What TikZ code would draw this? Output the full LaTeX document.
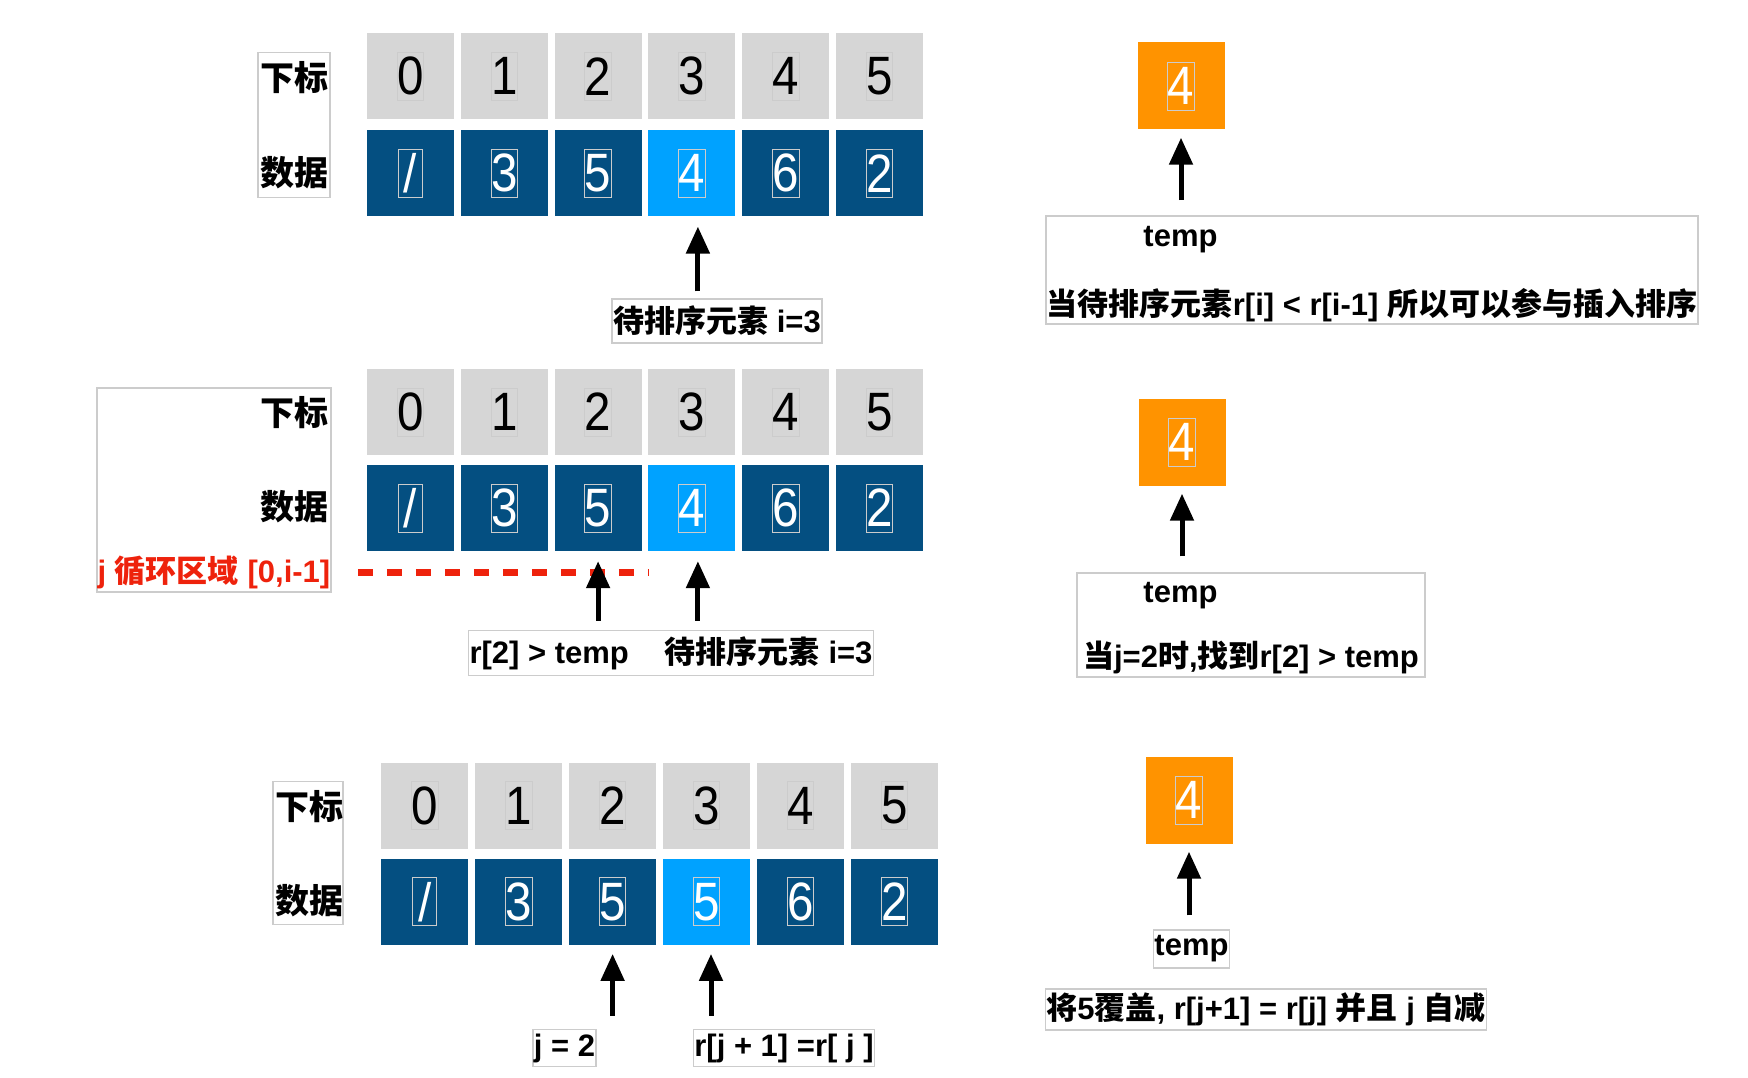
\documentclass[tikz,border=0pt]{standalone}
\usepackage{graphicx}
\usepackage{fontspec}
\setmainfont{Liberation Sans}
\newfontfamily\zhfont{Noto Sans CJK SC}
\newcommand{\zh}[1]{{\zhfont #1}}
\newcommand{\dg}[1]{\scalebox{0.88}[1]{#1}}
\usetikzlibrary{arrows.meta,positioning,calc}
\definecolor{idxgray}{RGB}{214,214,214}
\definecolor{datblue}{RGB}{4,79,129}
\definecolor{curblue}{RGB}{0,162,255}
\definecolor{tmporange}{RGB}{255,147,0}
\definecolor{loopred}{RGB}{238,34,12}
\definecolor{framegray}{RGB}{204,204,204}

\begin{document}
\begin{tikzpicture}[x=1pt, y=-1pt,
    cell/.style={fill=#1, minimum width=87pt, minimum height=86pt, inner sep=0pt},
    cell/.default=idxgray,
    digit/.style={draw=framegray, line width=0.8pt, inner sep=0pt,
                  minimum width=24pt, minimum height=48pt, text=#1,
                  font=\fontsize{54}{54}\selectfont},
    digit/.default=black,
    frame/.style={draw=framegray, line width=1.5pt, inner sep=0pt},
    txt/.style={inner xsep=1pt, inner ysep=0pt, minimum height=40pt,
                font=\fontsize{31}{34}\selectfont\bfseries},
    note/.style={txt, draw=framegray, line width=1.5pt},
    tag/.style={inner sep=0pt, font=\fontsize{34}{36}\selectfont\bfseries\zhfont},
    arr/.style={-{Triangle[length=27pt,width=23pt]}, line width=5pt},
  ]
  \useasboundingbox (0,0) rectangle (1748,1078);

  % ---- step 1: pick r[i]
  \node[frame, minimum width=72pt, minimum height=145pt] (lb1) at (294,125) {};
  \node[tag] (lb1i) at (294,78) {下标};
  \node[tag] (lb1d) at (294,173) {数据};
  \foreach \v [count=\i from 0] in {0,1,2,3,4,5} {
    \node[cell] (a\i) at (410.5+93.8*\i,76.4) {};
    \node[digit] (an\i) at (a\i) {\dg{\v}};
  }
  \foreach \v [count=\i from 0] in {{/},3,5,4,6,2} {
    \ifnum\i=3 \def\c{curblue}\else\def\c{datblue}\fi
    \node[cell=\c] (b\i) at (410.5+93.8*\i,173.4) {};
    \node[digit=white] (bn\i) at (b\i) {\dg{\v}};
  }
  \node[note, minimum height=44pt] (p1) at (717,321) {\zh{待排序元素} i=3};
  \draw[arr, shorten <=7pt, shorten >=10pt]
    ([xshift=6pt]b3.south |- p1.north) -- ([xshift=6pt]b3.south);

  \node[cell=tmporange, minimum height=87pt] (t1) at (1181,86) {};
  \node[digit=white] (tn1) at (t1) {\dg{4}};
  \node[frame, minimum width=652pt, minimum height=108pt] (c1) at (1372,270) {};
  \node[txt] (c1a) at (1180.5,240) {temp};
  \node[txt] (c1b) at (1372,305)
    {\zh{当待排序元素}r[i] < r[i-1] \zh{所以可以参与插入排序}};
  \draw[arr, shorten <=15pt, shorten >=8pt] (c1.north -| t1.south) -- (t1.south);

  % ---- step 2: search j
  \node[frame, minimum width=234pt, minimum height=204pt] (lb2) at (214,490) {};
  \node[tag, anchor=east] (lb2i) at (329,412.5) {下标};
  \node[tag, anchor=east] (lb2d) at (329,507) {数据};
  \node[txt, text=loopred] (jr) at (214,572) {j \zh{循环区域} [0,i-1]};
  \foreach \v [count=\i from 0] in {0,1,2,3,4,5} {
    \node[cell] (c\i) at (410.5+93.8*\i,412) {};
    \node[digit] (cn\i) at (c\i) {\dg{\v}};
  }
  \foreach \v [count=\i from 0] in {{/},3,5,4,6,2} {
    \ifnum\i=3 \def\c{curblue}\else\def\c{datblue}\fi
    \node[cell=\c] (d\i) at (410.5+93.8*\i,508) {};
    \node[digit=white] (dn\i) at (d\i) {\dg{\v}};
  }
  \draw[loopred, line width=7pt, dash pattern=on 15pt off 14pt]
    ([xshift=26pt]lb2.east |- jr) -- (jr -| d3.west);
  \node[note, minimum height=45pt] (p2) at (671,653)
    {r[2] > temp\hspace{36pt}\zh{待排序元素} i=3};
  \draw[arr, shorten <=9pt, shorten >=10pt] (p2.north -| d2.south) -- (d2.south);
  \draw[arr, shorten <=9pt, shorten >=10pt]
    ([xshift=6pt]d3.south |- p2.north) -- ([xshift=6pt]d3.south);

  \node[cell=tmporange, minimum height=87pt] (t2) at (1182,442) {};
  \node[digit=white] (tn2) at (t2) {\dg{4}};
  \node[frame, minimum width=348pt, minimum height=104pt] (c2) at (1251,625) {};
  \node[txt] (c2a) at (1180.5,596) {temp};
  \node[txt] (c2b) at (1251,657) {\zh{当}j=2\zh{时},\zh{找到}r[2] > temp};
  \draw[arr, shorten <=16pt, shorten >=8pt] (c2.north -| t2.south) -- (t2.south);

  % ---- step 3: move r[j] to r[j+1]
  \node[frame, minimum width=70pt, minimum height=143pt] (lb3) at (308,853) {};
  \node[tag] (lb3i) at (309,807) {下标};
  \node[tag] (lb3d) at (309,901) {数据};
  \foreach \v [count=\i from 0] in {0,1,2,3,4,5} {
    \node[cell] (e\i) at (424.8+93.9*\i,805.5) {};
    \node[digit] (en\i) at (e\i) {\dg{\v}};
  }
  \foreach \v [count=\i from 0] in {{/},3,5,5,6,2} {
    \ifnum\i=3 \def\c{curblue}\else\def\c{datblue}\fi
    \node[cell=\c] (f\i) at (424.8+93.9*\i,901.7) {};
    \node[digit=white] (fn\i) at (f\i) {\dg{\v}};
  }
  \node[note, minimum height=37pt] (q1) at (564.5,1048) {j = 2};
  \node[note, minimum height=37pt] (q2) at (784,1048) {r[j + 1] =r[ j ]};
  \draw[arr, shorten <=13pt, shorten >=9pt] (q1.north -| f2.south) -- (f2.south);
  \draw[arr, shorten <=13pt, shorten >=9pt]
    ([xshift=4.5pt]f3.south |- q2.north) -- ([xshift=4.5pt]f3.south);

  \node[cell=tmporange, minimum height=87pt] (t3) at (1189,800) {};
  \node[digit=white] (tn3) at (t3) {\dg{4}};
  \node[note, minimum height=38pt] (c3a) at (1191.5,949) {temp};
  \node[note, minimum height=41pt] (c3b) at (1266,1009.5)
    {\zh{将}5\zh{覆盖}, r[j+1] = r[j] \zh{并且} j \zh{自减}};
  \draw[arr, shorten <=14pt, shorten >=8pt] (c3a.north -| t3.south) -- (t3.south);
\end{tikzpicture}
\end{document}
